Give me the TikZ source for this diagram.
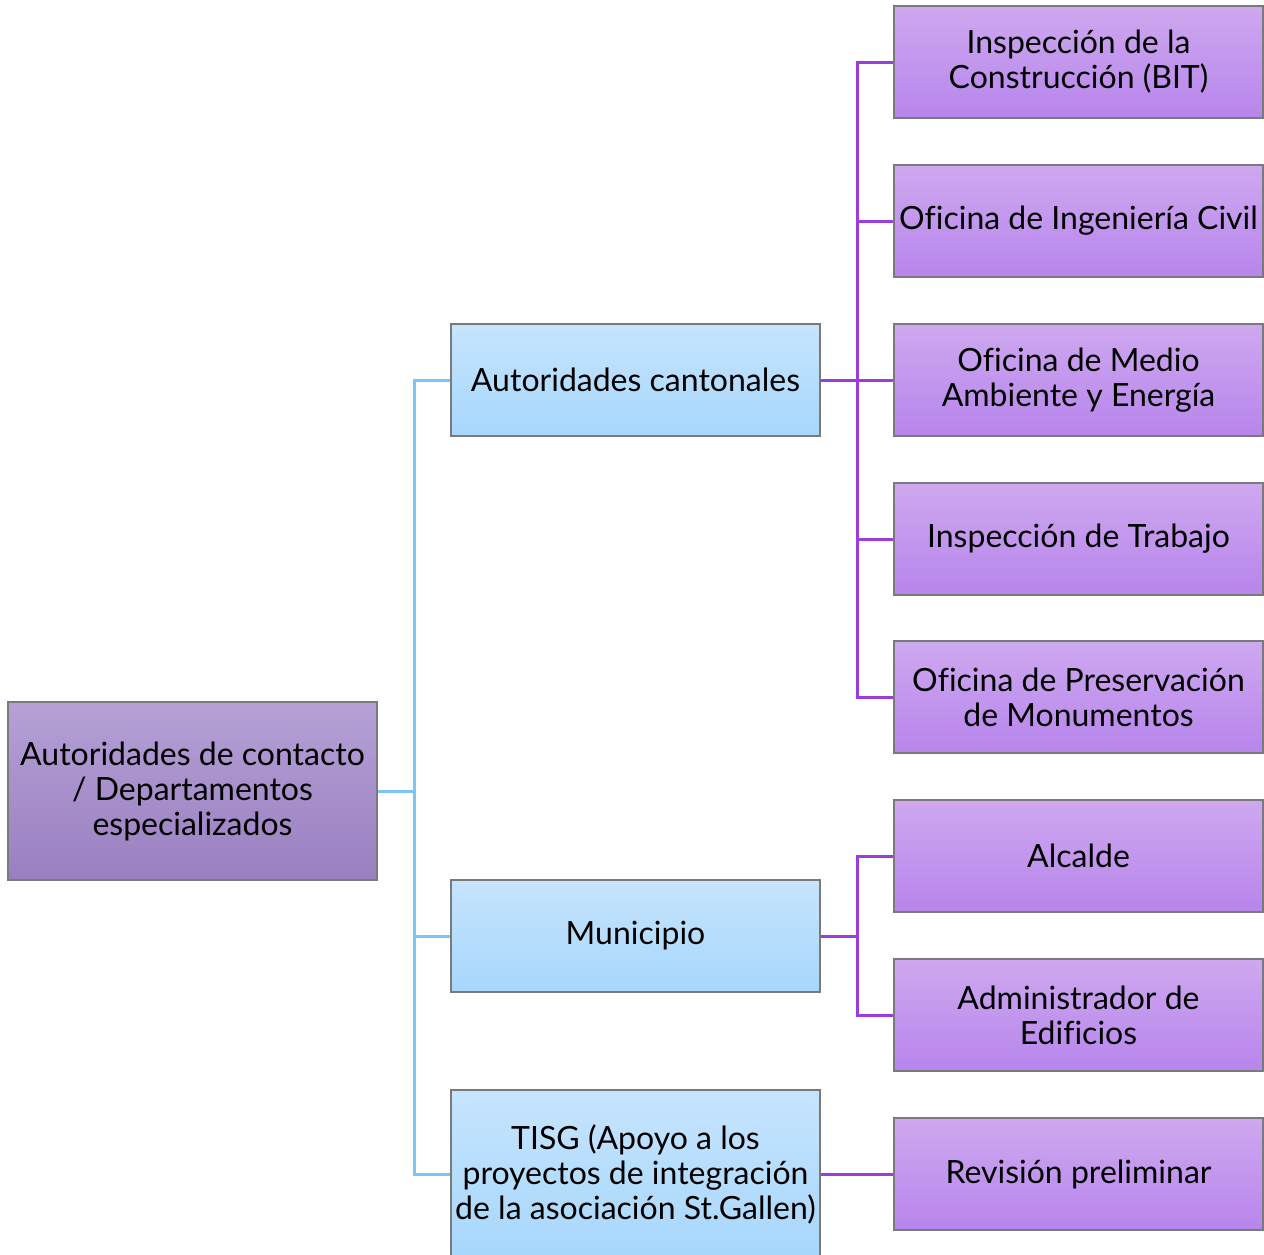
\documentclass[tikz,border=0pt]{standalone}
\usepackage{fontspec}
\setmainfont{Lato}[Ligatures=NoCommon]
\begin{document}
\definecolor{rootTop}{HTML}{B5A0D6}
\definecolor{rootBot}{HTML}{9A7FC0}
\definecolor{blueTop}{HTML}{C6E4FD}
\definecolor{blueBot}{HTML}{A7D7FC}
\definecolor{purpTop}{HTML}{CEA8EF}
\definecolor{purpBot}{HTML}{B785EC}
\definecolor{blueLine}{HTML}{7DC5F5}
\definecolor{purpLine}{HTML}{9B3DDC}
\definecolor{boxEdge}{HTML}{7A7A7A}
\begin{tikzpicture}[x=1pt,y=-1pt,
  box/.style={rectangle,draw=boxEdge,line width=1.2pt,inner sep=0pt,
    minimum width=369pt,minimum height=112pt,align=center,
    font=\fontsize{32}{35}\selectfont},
  rootbox/.style={box,minimum height=178pt,top color=rootTop,bottom color=rootBot},
  midbox/.style={box,top color=blueTop,bottom color=blueBot},
  leafbox/.style={box,top color=purpTop,bottom color=purpBot},
  bl/.style={draw=blueLine,line width=3pt},
  pl/.style={draw=purpLine,line width=3pt}]
\useasboundingbox (0,0) rectangle (1264,1254);
\clip (0,0) rectangle (1264,1254);
\fill[white] (0,0) rectangle (1264,1254);

% junction points of the connector trees
\coordinate (bj) at (414,791);
\coordinate (pj) at (857,380);
\coordinate (mj) at (857,936);

% boxes
\node[rootbox] (root) at (192.5,791) {Autoridades de contacto\\/ Departamentos\\especializados};
\node[midbox] (cant) at (635.5,380) {Autoridades cantonales};
\node[midbox] (muni) at (635.5,936) {Municipio};
\node[midbox,minimum height=168pt] (tisg) at (635.5,1174) {TISG (Apoyo a los\\proyectos de integración\\de la asociación St.Gallen)};

\node[leafbox] (c1) at (1078.5,62) {Inspección de la\\Construcción (BIT)};
\node[leafbox] (c2) at (1078.5,221) {Oficina de Ingeniería Civil};
\node[leafbox] (c3) at (1078.5,380) {Oficina de Medio\\Ambiente y Energía};
\node[leafbox] (c4) at (1078.5,539) {Inspección de Trabajo};
\node[leafbox] (c5) at (1078.5,697) {Oficina de Preservación\\de Monumentos};
\node[leafbox] (m1) at (1078.5,856) {Alcalde};
\node[leafbox] (m2) at (1078.5,1015) {Administrador de\\Edificios};
\node[leafbox] (t1) at (1078.5,1174) {Revisión preliminar};

% blue tree: root to the three authority groups
\draw[bl] (root.east) -- (bj);
\draw[bl] (cant.west) -- (cant.west -| bj) -- (tisg.west -| bj) -- (tisg.west);
\draw[bl] (muni.west) -- (muni.west -| bj);

% purple tree: cantonal offices
\draw[pl] (cant.east) -- (c3.west);
\draw[pl] (c1.west) -- (c1.west -| pj) -- (c5.west -| pj) -- (c5.west);
\draw[pl] (c2.west) -- (c2.west -| pj);
\draw[pl] (c4.west) -- (c4.west -| pj);

% purple tree: municipality
\draw[pl] (muni.east) -- (mj);
\draw[pl] (m1.west) -- (m1.west -| mj) -- (m2.west -| mj) -- (m2.west);

% TISG to its single child
\draw[pl] (tisg.east) -- (t1.west);
\end{tikzpicture}
\end{document}
